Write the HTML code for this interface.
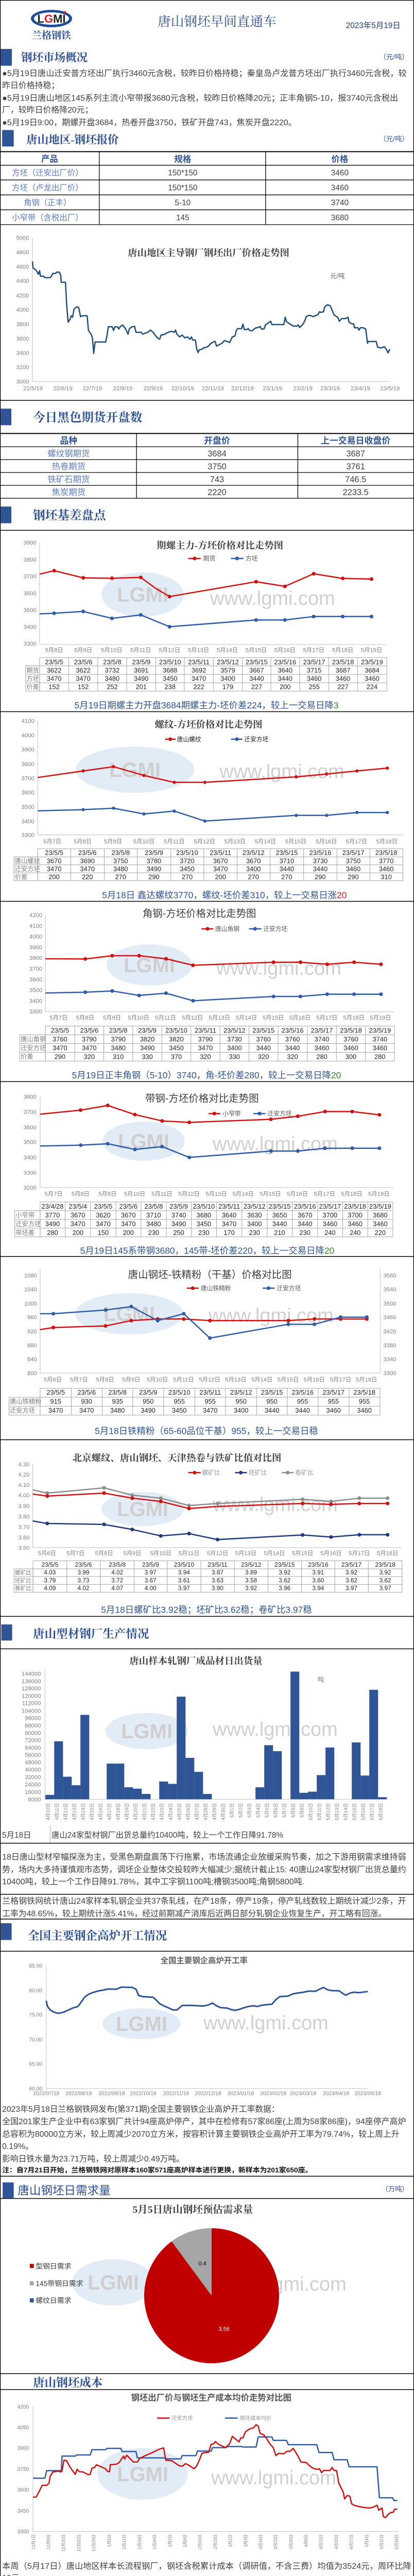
<!DOCTYPE html>
<html><head><meta charset="utf-8">
<style>
body{margin:0;background:#fff}
svg{display:block}
text{font-family:"Liberation Sans","Noto Sans CJK SC",sans-serif}
.sr{font-family:"Liberation Serif","Noto Serif CJK SC",serif}
.z text{transform-box:fill-box;transform-origin:50% 50%}
.z1 text{transform:scaleY(1.538)}
.z2 text{transform:scaleY(1.436)}
.z3 text,.z4 text{transform:scaleY(1.297)}
.z5 text,.z6 text,.z7 text{transform:scaleY(1.149)}
.z8 text{transform:scaleY(1.160)}
.z line,.z path,.z polyline,.z rect,.z ellipse{vector-effect:non-scaling-stroke}
.ax{stroke:#bfbfbf;stroke-width:1}
.tb{stroke:#a6a6a6;stroke-width:1;fill:none}
.hl{stroke:#000;stroke-width:1.5}
.yl{font-size:22px;fill:#7f7f7f;text-anchor:end}
.xl{font-size:22px;fill:#7f7f7f;text-anchor:middle}
.tt{font-size:36px;fill:#404040;font-weight:bold;text-anchor:middle}
.td{font-size:25px;fill:#262626;text-anchor:middle}
.tl{font-size:24px;fill:#7f7f7f}
.cap{font-size:34px;fill:#2f5597;text-anchor:middle}
.lg{font-size:23px;fill:#595959}
.rl{stroke:#d40f0f;stroke-width:2.5;fill:none;stroke-linejoin:round}
.bl{stroke:#2e5ca8;stroke-width:2.5;fill:none;stroke-linejoin:round}
.dr{fill:#d40f0f}.db{fill:#2e5ca8}
.sh{font-size:44px;fill:#2b4f96;font-weight:bold}
.bt{font-size:31px;fill:#404040}
</style></head><body>
<svg width="804" height="5013" viewBox="0 0 804 5013" xmlns="http://www.w3.org/2000/svg">
<rect x="0.5" y="0.5" width="803" height="5012" fill="#fff" stroke="#000" stroke-width="1.5"/>

<!-- watermarks (orig coords) -->
<g fill="#dbe7f4" opacity="0.8">
<ellipse cx="277" cy="1154" rx="80" ry="43"/>
<ellipse cx="262" cy="1494" rx="115" ry="45"/>
<ellipse cx="290" cy="1873" rx="83" ry="40"/>
<ellipse cx="279" cy="2215" rx="80" ry="38"/>
<ellipse cx="251" cy="2550" rx="105" ry="40"/>
<ellipse cx="277" cy="2929" rx="80" ry="33"/>
<ellipse cx="285" cy="3360" rx="80" ry="35"/>
<ellipse cx="275" cy="3928" rx="76" ry="30"/>
<ellipse cx="220" cy="4430" rx="80" ry="45"/>
<ellipse cx="277" cy="4802" rx="88" ry="50"/>
</g>
<g fill="#cfcfcf" font-weight="bold" font-size="40" text-anchor="middle" font-family="Liberation Sans, sans-serif">
<text x="277" y="1168">LGMI</text><text x="262" y="1508">LGMI</text><text x="290" y="1887">LGMI</text>
<text x="279" y="2229">LGMI</text><text x="251" y="2564">LGMI</text><text x="277" y="2943">LGMI</text>
<text x="285" y="3374">LGMI</text><text x="275" y="3942">LGMI</text><text x="220" y="4444">LGMI</text><text x="277" y="4816">LGMI</text>
</g>
<g fill="#d0d0d0" font-size="38" class="sr">
<text x="408" y="1174">www.lgmi.com</text><text x="426" y="1510">www.lgmi.com</text><text x="420" y="1892">www.lgmi.com</text>
<text x="413" y="2233">www.lgmi.com</text><text x="405" y="2566">www.lgmi.com</text><text x="413" y="2933">www.lgmi.com</text>
<text x="413" y="3369">www.lgmi.com</text><text x="395" y="3939">www.lgmi.com</text><text x="430" y="4446">www.lgmi.com</text><text x="410" y="4822">www.lgmi.com</text>
</g>

<!-- logo -->
<ellipse cx="100" cy="36" rx="40" ry="17" fill="#1f4e9c"/>
<ellipse cx="100" cy="36" rx="34" ry="12" fill="#fff"/>
<text x="100" y="44" text-anchor="middle" font-size="22" font-weight="bold" fill="#222">L<tspan fill="#e02020">G</tspan>MI</text>
<circle cx="126" cy="24" r="2.5" fill="#e02020"/>
<text x="100" y="75" text-anchor="middle" font-size="19" font-weight="bold" fill="#2b4f96" class="sr">兰格钢铁</text>

<!-- ZOOM1 -->
<g class="z z1" transform="translate(0,0) scale(0.51276,0.33333)">
<text x="822" y="143" class="sr" style="font-size:50px;fill:#2b4f96;text-anchor:middle">唐山钢坯早间直通车</text>
<text x="1310" y="158" style="font-size:30px;fill:#1f3d7a">2023年5月19日</text>
<rect x="2" y="285" width="43" height="98" fill="#2f5597"/>
<text x="80" y="350" class="sr sh" style="font-size:42px">钢坯市场概况</text>
<text x="1548" y="340" style="font-size:26px;fill:#2f5597;text-anchor:end">（元/吨）</text>
<text x="8" y="438" class="bt" textLength="1532" lengthAdjust="spacingAndGlyphs">●5月19日唐山迁安普方坯出厂执行3460元含税，较昨日价格持稳；秦皇岛卢龙普方坯出厂执行3460元含税，较</text>
<text x="8" y="508" class="bt">昨日价格持稳；</text>
<text x="8" y="581" class="bt" textLength="1500" lengthAdjust="spacingAndGlyphs">●5月19日唐山地区145系列主流小窄带报3680元含税，较昨日价格降20元；正丰角钢5-10，报3740元含税出</text>
<text x="8" y="651" class="bt">厂，较昨日价格降20元；</text>
<text x="8" y="723" class="bt" textLength="1115" lengthAdjust="spacingAndGlyphs">●5月19日9:00，期螺开盘3684，热卷开盘3750，铁矿开盘743，焦炭开盘2220。</text>
<rect x="8" y="757" width="44" height="96" fill="#2f5597"/>
<text x="100" y="828" class="sr sh" style="font-size:42px">唐山地区-钢坯报价</text>
<text x="1548" y="817" style="font-size:26px;fill:#2f5597;text-anchor:end">（元/吨）</text>
<line x1="0" y1="883" x2="1568" y2="883" stroke="#000" stroke-width="2"/>
<g stroke="#000" stroke-width="1.3">
<line x1="0" y1="962" x2="1568" y2="962"/><line x1="0" y1="1048" x2="1568" y2="1048"/>
<line x1="0" y1="1135" x2="1568" y2="1135"/><line x1="0" y1="1222" x2="1568" y2="1222"/>
<line x1="0" y1="1308" x2="1568" y2="1308"/>
<line x1="376" y1="883" x2="376" y2="1308"/><line x1="1006" y1="883" x2="1006" y2="1308"/>
</g>
<g style="font-size:32px;fill:#2f5597;font-weight:bold;text-anchor:middle">
<text x="188" y="937">产品</text><text x="692" y="937">规格</text><text x="1287" y="937">价格</text></g>
<g style="font-size:30px;fill:#404040;text-anchor:middle">
<text x="180" y="1017" style="fill:#5b7dc8">方坯（迁安出厂价）</text><text x="692" y="1017">150*150</text><text x="1287" y="1017">3460</text>
<text x="180" y="1104" style="fill:#5b7dc8">方坯（卢龙出厂价）</text><text x="692" y="1104">150*150</text><text x="1287" y="1104">3460</text>
<text x="180" y="1191" style="fill:#5b7dc8">角钢（正丰）</text><text x="692" y="1191">5-10</text><text x="1287" y="1191">3740</text>
<text x="180" y="1278" style="fill:#5b7dc8">小窄带（含税出厂）</text><text x="692" y="1278">145</text><text x="1287" y="1278">3680</text>
</g>
</g>

<!-- ZOOM2 -->
<g class="z z2" transform="translate(0,420) scale(0.51276,0.35714)">
<line class="ax" x1="123" y1="117" x2="123" y2="898"/><line class="ax" x1="123" y1="898" x2="1478" y2="898"/>
<g class="yl"><text x="110" y="125">5000</text><text x="110" y="203">4800</text><text x="110" y="281">4600</text><text x="110" y="359">4400</text><text x="110" y="438">4200</text><text x="110" y="516">4000</text><text x="110" y="594">3800</text><text x="110" y="672">3600</text><text x="110" y="750">3400</text><text x="110" y="828">3200</text><text x="110" y="906">3000</text></g>
<g class="xl"><text x="125" y="942">22/5/19</text><text x="238" y="942">22/6/19</text><text x="350" y="942">22/7/19</text><text x="465" y="942">22/8/19</text><text x="580" y="942">22/9/19</text><text x="692" y="942">22/10/19</text><text x="806" y="942">22/11/19</text><text x="918" y="942">22/12/19</text><text x="1032" y="942">23/1/19</text><text x="1147" y="942">23/2/19</text><text x="1250" y="942">23/3/19</text><text x="1365" y="942">23/4/19</text><text x="1477" y="942">23/5/19</text></g>
<text x="790" y="210" class="tt sr">唐山地区主导钢厂钢坯出厂价格走势图</text>
<text x="1278" y="332" style="font-size:24px;fill:#666;text-anchor:middle">元/吨</text>
<polyline stroke="#1f4e79" stroke-width="2.5" fill="none" stroke-linejoin="round" points="123,245 125,280 135,290 140,300 145,315 150,295 153,325 165,325 170,333 190,333 195,325 200,310 210,310 215,303 225,303 230,320 232,358 248,358 252,470 258,575 265,560 270,540 275,548 280,505 290,492 298,495 305,545 312,540 330,540 335,620 345,640 350,660 355,745 360,683 400,683 405,650 410,600 425,600 430,620 435,600 445,600 450,612 455,600 465,590 475,610 485,640 490,610 500,600 510,598 515,630 535,630 540,640 560,630 570,618 580,630 590,650 600,665 605,667 610,645 620,643 630,635 640,628 650,625 660,630 665,618 670,640 680,655 690,645 700,660 710,655 720,668 725,655 730,672 740,672 745,720 750,740 755,725 765,722 770,715 780,712 790,705 795,695 800,690 810,680 815,680 820,705 840,690 850,675 860,680 870,685 880,655 890,650 895,620 900,610 915,610 920,585 925,615 935,615 940,610 945,620 955,622 960,615 970,605 975,605 985,598 990,612 1000,612 1005,590 1010,585 1020,575 1025,570 1030,588 1075,588 1080,548 1085,572 1095,582 1110,596 1125,596 1130,590 1135,604 1145,590 1150,580 1155,565 1160,545 1165,540 1175,538 1185,545 1195,540 1205,532 1210,518 1215,522 1225,518 1230,492 1240,480 1250,485 1255,500 1265,535 1275,545 1280,550 1285,570 1295,555 1310,555 1318,548 1322,575 1330,582 1340,585 1342,605 1355,605 1360,618 1365,605 1375,605 1385,612 1392,690 1395,680 1425,680 1430,710 1440,715 1450,712 1455,708 1462,720 1470,742 1475,725 1478,725"/>
<line class="hl" x1="0" y1="1000" x2="1568" y2="1000"/>
<rect x="2" y="1045" width="41" height="90" fill="#2f5597"/>
<text x="125" y="1108" class="sr sh" style="font-size:46px">今日黑色期货开盘数</text>
<line x1="0" y1="1180" x2="1568" y2="1180" stroke="#000" stroke-width="2"/>
<g stroke="#000" stroke-width="1.3">
<line x1="0" y1="1252" x2="1568" y2="1252"/><line x1="0" y1="1322" x2="1568" y2="1322"/><line x1="0" y1="1392" x2="1568" y2="1392"/><line x1="0" y1="1462" x2="1568" y2="1462"/><line x1="0" y1="1532" x2="1568" y2="1532"/>
<line x1="517" y1="1180" x2="517" y2="1532"/><line x1="1128" y1="1180" x2="1128" y2="1532"/></g>
<g style="font-size:33px;fill:#2f5597;font-weight:bold;text-anchor:middle"><text x="260" y="1230">品种</text><text x="822" y="1230">开盘价</text><text x="1347" y="1230">上一交易日收盘价</text></g>
<g style="font-size:32px;fill:#404040;text-anchor:middle">
<text x="260" y="1300" style="fill:#5b7dc8">螺纹钢期货</text><text x="822" y="1300">3684</text><text x="1347" y="1300">3687</text>
<text x="260" y="1370" style="fill:#5b7dc8">热卷期货</text><text x="822" y="1370">3750</text><text x="1347" y="1370">3761</text>
<text x="260" y="1440" style="fill:#5b7dc8">铁矿石期货</text><text x="822" y="1440">743</text><text x="1347" y="1440">746.5</text>
<text x="260" y="1510" style="fill:#5b7dc8">焦炭期货</text><text x="822" y="1510">2220</text><text x="1347" y="1510">2233.5</text></g>
</g>

<!-- ZOOM3 -->
<g class="z z3" transform="translate(0,980) scale(0.51276,0.39541)">
<rect x="2" y="8" width="41" height="82" fill="#2f5597"/>
<text x="125" y="66" class="sr sh" style="font-size:46px">钢坯基差盘点</text>
<line class="hl" x1="0" y1="125" x2="1568" y2="125"/>
<line class="ax" x1="150" y1="185" x2="150" y2="685"/><line class="ax" x1="150" y1="685" x2="1465" y2="685"/>
<g class="yl"><text x="138" y="193">3900</text><text x="138" y="276">3800</text><text x="138" y="359">3700</text><text x="138" y="442">3600</text><text x="138" y="524">3500</text><text x="138" y="607">3400</text><text x="138" y="689">3300</text></g>
<g class="xl"><text x="205" y="720">5月8日</text><text x="315" y="720">5月9日</text><text x="423" y="720">5月10日</text><text x="533" y="720">5月11日</text><text x="642" y="720">5月12日</text><text x="752" y="720">5月13日</text><text x="861" y="720">5月14日</text><text x="970" y="720">5月15日</text><text x="1079" y="720">5月16日</text><text x="1188" y="720">5月17日</text><text x="1298" y="720">5月18日</text><text x="1407" y="720">5月19日</text></g>
<text x="833" y="212" class="tt sr">期螺主力-方坯价格对比走势图</text>
<line x1="713" y1="263" x2="760" y2="263" class="rl"/><ellipse cx="737" cy="263" rx="7" ry="9" class="dr"/><text x="770" y="271" class="lg">期货</text>
<line x1="875" y1="263" x2="922" y2="263" class="bl"/><ellipse cx="898" cy="263" rx="7" ry="9" class="db"/><text x="930" y="271" class="lg">方坯</text>
<polyline class="rl" points="150,340 205,323 315,358 424,360 533,356 590,410 642,450 970,377 1079,400 1188,338 1298,361 1407,364"/>
<polyline class="bl" points="150,535 205,532 315,523 424,557 533,540 642,598 970,565 1079,565 1188,548 1298,548 1407,548"/>
<g class="dr"><ellipse cx="205" cy="323" rx="7" ry="9"/><ellipse cx="315" cy="358" rx="7" ry="9"/><ellipse cx="424" cy="360" rx="7" ry="9"/><ellipse cx="533" cy="356" rx="7" ry="9"/><ellipse cx="642" cy="450" rx="7" ry="9"/><ellipse cx="970" cy="377" rx="7" ry="9"/><ellipse cx="1079" cy="400" rx="7" ry="9"/><ellipse cx="1188" cy="338" rx="7" ry="9"/><ellipse cx="1298" cy="361" rx="7" ry="9"/><ellipse cx="1407" cy="364" rx="7" ry="9"/></g>
<g class="db"><ellipse cx="205" cy="532" rx="7" ry="9"/><ellipse cx="315" cy="523" rx="7" ry="9"/><ellipse cx="424" cy="557" rx="7" ry="9"/><ellipse cx="533" cy="540" rx="7" ry="9"/><ellipse cx="642" cy="598" rx="7" ry="9"/><ellipse cx="970" cy="565" rx="7" ry="9"/><ellipse cx="1079" cy="565" rx="7" ry="9"/><ellipse cx="1188" cy="548" rx="7" ry="9"/><ellipse cx="1298" cy="548" rx="7" ry="9"/><ellipse cx="1407" cy="548" rx="7" ry="9"/></g>
<g class="tb"><rect x="150" y="750" width="1315" height="164"/><rect x="97" y="790" width="53" height="124"/>
<line x1="97" y1="790" x2="1465" y2="790"/><line x1="97" y1="832" x2="1465" y2="832"/><line x1="97" y1="873" x2="1465" y2="873"/>
<path d="M260,750V914M370,750V914M480,750V914M590,750V914M698,750V914M808,750V914M918,750V914M1026,750V914M1135,750V914M1245,750V914M1354,750V914"/></g>
<g class="td"><text y="780"><tspan x="205">23/5/5</tspan><tspan x="315">23/5/6</tspan><tspan x="425">23/5/8</tspan><tspan x="535">23/5/9</tspan><tspan x="644">23/5/10</tspan><tspan x="753">23/5/11</tspan><tspan x="863">23/5/12</tspan><tspan x="972">23/5/15</tspan><tspan x="1080">23/5/16</tspan><tspan x="1190">23/5/17</tspan><tspan x="1299">23/5/18</tspan><tspan x="1409">23/5/19</tspan></text>
<text y="820"><tspan x="205">3622</tspan><tspan x="315">3622</tspan><tspan x="425">3732</tspan><tspan x="535">3691</tspan><tspan x="644">3688</tspan><tspan x="753">3692</tspan><tspan x="863">3579</tspan><tspan x="972">3667</tspan><tspan x="1080">3640</tspan><tspan x="1190">3715</tspan><tspan x="1299">3687</tspan><tspan x="1409">3684</tspan></text>
<text y="861"><tspan x="205">3470</tspan><tspan x="315">3470</tspan><tspan x="425">3480</tspan><tspan x="535">3490</tspan><tspan x="644">3450</tspan><tspan x="753">3470</tspan><tspan x="863">3400</tspan><tspan x="972">3440</tspan><tspan x="1080">3440</tspan><tspan x="1190">3460</tspan><tspan x="1299">3460</tspan><tspan x="1409">3460</tspan></text>
<text y="902"><tspan x="205">152</tspan><tspan x="315">152</tspan><tspan x="425">252</tspan><tspan x="535">201</tspan><tspan x="644">238</tspan><tspan x="753">222</tspan><tspan x="863">179</tspan><tspan x="972">227</tspan><tspan x="1080">200</tspan><tspan x="1190">255</tspan><tspan x="1299">227</tspan><tspan x="1409">224</tspan></text></g>
<g class="tl"><text x="100" y="820">期货</text><text x="100" y="861">方坯</text><text x="100" y="902">价差</text></g>
<text x="782" y="995" class="cap">5月19日期螺主力开盘3684期螺主力-坯价差224，较上一交易日降<tspan fill="#3a8a2a">3</tspan></text>
<line class="hl" x1="0" y1="1015" x2="1568" y2="1015"/>
<line class="ax" x1="143" y1="1060" x2="143" y2="1624"/>
<g class="yl"><text x="130" y="1068">4100</text><text x="130" y="1139">4000</text><text x="130" y="1209">3900</text><text x="130" y="1280">3800</text><text x="130" y="1350">3700</text><text x="130" y="1420">3600</text><text x="130" y="1491">3500</text><text x="130" y="1561">3400</text></g>
<text x="790" y="1090" class="tt sr">螺纹-方坯价格对比走势图</text>
<line x1="625" y1="1150" x2="665" y2="1150" class="rl"/><ellipse cx="645" cy="1150" rx="7" ry="9" class="dr"/><text x="670" y="1158" class="lg" style="fill:#222">唐山螺纹</text>
<line x1="875" y1="1150" x2="918" y2="1150" class="bl"/><ellipse cx="897" cy="1150" rx="7" ry="9" class="db"/><text x="925" y="1158" class="lg" style="fill:#222">迁安方坯</text>
<polyline class="rl" points="143,1338 315,1306 430,1285 545,1328 660,1362 776,1362 1122,1335 1237,1321 1352,1306 1467,1292"/>
<polyline class="bl" points="143,1502 315,1496 430,1489 545,1517 660,1503 776,1552 1122,1524 1237,1524 1352,1510 1467,1510"/>
<g class="dr"><ellipse cx="315" cy="1306" rx="6" ry="8"/><ellipse cx="430" cy="1285" rx="6" ry="8"/><ellipse cx="545" cy="1328" rx="6" ry="8"/><ellipse cx="660" cy="1362" rx="6" ry="8"/><ellipse cx="776" cy="1362" rx="6" ry="8"/><ellipse cx="1122" cy="1335" rx="6" ry="8"/><ellipse cx="1237" cy="1321" rx="6" ry="8"/><ellipse cx="1352" cy="1306" rx="6" ry="8"/><ellipse cx="1467" cy="1292" rx="6" ry="8"/></g>
<g class="db"><ellipse cx="315" cy="1496" rx="6" ry="8"/><ellipse cx="430" cy="1489" rx="6" ry="8"/><ellipse cx="545" cy="1517" rx="6" ry="8"/><ellipse cx="660" cy="1503" rx="6" ry="8"/><ellipse cx="776" cy="1552" rx="6" ry="8"/><ellipse cx="1122" cy="1524" rx="6" ry="8"/><ellipse cx="1237" cy="1524" rx="6" ry="8"/><ellipse cx="1352" cy="1510" rx="6" ry="8"/><ellipse cx="1467" cy="1510" rx="6" ry="8"/></g>
</g>

<!-- ZOOM4 -->
<g class="z z4" transform="translate(0,1600) scale(0.51276,0.39541)">
<line class="ax" x1="145" y1="52" x2="1527" y2="52"/>
<text x="130" y="60" class="yl">3300</text>
<g class="xl"><text x="198" y="92">5月7日</text><text x="313" y="92">5月8日</text><text x="428" y="92">5月9日</text><text x="545" y="92">5月10日</text><text x="660" y="92">5月11日</text><text x="775" y="92">5月12日</text><text x="890" y="92">5月13日</text><text x="1005" y="92">5月14日</text><text x="1120" y="92">5月15日</text><text x="1236" y="92">5月16日</text><text x="1350" y="92">5月17日</text><text x="1465" y="92">5月18日</text></g>
<g class="tb"><rect x="143" y="120" width="1383" height="157"/><rect x="53" y="160" width="90" height="117"/>
<line x1="53" y1="160" x2="1526" y2="160"/><line x1="53" y1="199" x2="1526" y2="199"/><line x1="53" y1="238" x2="1526" y2="238"/>
<path d="M268,120V277M395,120V277M520,120V277M647,120V277M772,120V277M898,120V277M1023,120V277M1150,120V277M1276,120V277M1401,120V277"/></g>
<g class="td"><text y="148"><tspan x="205">23/5/5</tspan><tspan x="331">23/5/6</tspan><tspan x="457">23/5/8</tspan><tspan x="583">23/5/9</tspan><tspan x="709">23/5/10</tspan><tspan x="835">23/5/11</tspan><tspan x="960">23/5/12</tspan><tspan x="1086">23/5/15</tspan><tspan x="1213">23/5/16</tspan><tspan x="1338">23/5/17</tspan><tspan x="1463">23/5/18</tspan></text>
<text y="189"><tspan x="205">3670</tspan><tspan x="331">3690</tspan><tspan x="457">3750</tspan><tspan x="583">3780</tspan><tspan x="709">3720</tspan><tspan x="835">3670</tspan><tspan x="960">3670</tspan><tspan x="1086">3710</tspan><tspan x="1213">3730</tspan><tspan x="1338">3750</tspan><tspan x="1463">3770</tspan></text>
<text y="228"><tspan x="205">3470</tspan><tspan x="331">3470</tspan><tspan x="457">3480</tspan><tspan x="583">3490</tspan><tspan x="709">3450</tspan><tspan x="835">3470</tspan><tspan x="960">3400</tspan><tspan x="1086">3440</tspan><tspan x="1213">3440</tspan><tspan x="1338">3460</tspan><tspan x="1463">3460</tspan></text>
<text y="267"><tspan x="205">200</tspan><tspan x="331">220</tspan><tspan x="457">270</tspan><tspan x="583">290</tspan><tspan x="709">270</tspan><tspan x="835">200</tspan><tspan x="960">270</tspan><tspan x="1086">270</tspan><tspan x="1213">290</tspan><tspan x="1338">290</tspan><tspan x="1463">310</tspan></text></g>
<g class="tl"><text x="56" y="189">唐山螺纹</text><text x="56" y="228">迁安方坯</text><text x="56" y="267">价差</text></g>
<text x="850" y="360" class="cap">5月18日 鑫达螺纹3770，螺纹-坯价差310，较上一交易日涨<tspan fill="#e02020">20</tspan></text>
<line class="hl" x1="0" y1="378" x2="1568" y2="378"/>
<text x="755" y="450" class="tt" style="font-weight:normal;font-size:38px">角钢-方坯价格对比走势图</text>
<line class="ax" x1="172" y1="445" x2="172" y2="920"/><line class="ax" x1="172" y1="920" x2="1495" y2="920"/>
<g class="yl"><text x="160" y="453">4200</text><text x="160" y="506">4100</text><text x="160" y="558">4000</text><text x="160" y="611">3900</text><text x="160" y="664">3800</text><text x="160" y="716">3700</text><text x="160" y="769">3600</text><text x="160" y="822">3500</text><text x="160" y="874">3400</text><text x="160" y="927">3300</text></g>
<g class="xl"><text x="222" y="957">5月7日</text><text x="322" y="957">5月8日</text><text x="424" y="957">5月9日</text><text x="525" y="957">5月10日</text><text x="627" y="957">5月11日</text><text x="729" y="957">5月12日</text><text x="831" y="957">5月13日</text><text x="933" y="957">5月14日</text><text x="1035" y="957">5月15日</text><text x="1136" y="957">5月16日</text><text x="1238" y="957">5月17日</text><text x="1340" y="957">5月18日</text><text x="1441" y="957">5月19日</text></g>
<line x1="763" y1="513" x2="808" y2="513" class="rl"/><ellipse cx="786" cy="513" rx="7" ry="9" class="dr"/><text x="815" y="521" class="lg">唐山角钢</text>
<line x1="943" y1="513" x2="990" y2="513" class="bl"/><ellipse cx="966" cy="513" rx="7" ry="9" class="db"/><text x="997" y="521" class="lg">迁安方坯</text>
<polyline class="rl" points="172,660 323,661 425,645 527,645 629,660 731,692 1036,677 1138,677 1239,687 1341,677 1443,687"/>
<polyline class="bl" points="172,828 323,824 425,818 527,840 629,829 731,866 1036,845 1138,845 1239,834 1341,834 1443,834"/>
<g class="dr"><ellipse cx="323" cy="661" rx="7" ry="9"/><ellipse cx="425" cy="645" rx="7" ry="9"/><ellipse cx="527" cy="645" rx="7" ry="9"/><ellipse cx="629" cy="660" rx="7" ry="9"/><ellipse cx="731" cy="692" rx="7" ry="9"/><ellipse cx="1036" cy="677" rx="7" ry="9"/><ellipse cx="1138" cy="677" rx="7" ry="9"/><ellipse cx="1239" cy="687" rx="7" ry="9"/><ellipse cx="1341" cy="677" rx="7" ry="9"/><ellipse cx="1443" cy="687" rx="7" ry="9"/></g>
<g class="db"><ellipse cx="323" cy="824" rx="7" ry="9"/><ellipse cx="425" cy="818" rx="7" ry="9"/><ellipse cx="527" cy="840" rx="7" ry="9"/><ellipse cx="629" cy="829" rx="7" ry="9"/><ellipse cx="731" cy="866" rx="7" ry="9"/><ellipse cx="1036" cy="845" rx="7" ry="9"/><ellipse cx="1138" cy="845" rx="7" ry="9"/><ellipse cx="1239" cy="834" rx="7" ry="9"/><ellipse cx="1341" cy="834" rx="7" ry="9"/><ellipse cx="1443" cy="834" rx="7" ry="9"/></g>
<g class="tb"><rect x="172" y="990" width="1322" height="172"/><rect x="75" y="1033" width="97" height="129"/>
<line x1="75" y1="1033" x2="1494" y2="1033"/><line x1="75" y1="1076" x2="1494" y2="1076"/><line x1="75" y1="1119" x2="1494" y2="1119"/>
<path d="M283,990V1162M393,990V1162M503,990V1162M613,990V1162M723,990V1162M833,990V1162M943,990V1162M1053,990V1162M1164,990V1162M1274,990V1162M1384,990V1162"/></g>
<g class="td"><text y="1020"><tspan x="227">23/5/5</tspan><tspan x="338">23/5/6</tspan><tspan x="448">23/5/8</tspan><tspan x="558">23/5/9</tspan><tspan x="668">23/5/10</tspan><tspan x="778">23/5/11</tspan><tspan x="888">23/5/12</tspan><tspan x="998">23/5/15</tspan><tspan x="1108">23/5/16</tspan><tspan x="1219">23/5/17</tspan><tspan x="1329">23/5/18</tspan><tspan x="1439">23/5/19</tspan></text>
<text y="1063"><tspan x="227">3760</tspan><tspan x="338">3790</tspan><tspan x="448">3790</tspan><tspan x="558">3820</tspan><tspan x="668">3820</tspan><tspan x="778">3790</tspan><tspan x="888">3730</tspan><tspan x="998">3760</tspan><tspan x="1108">3760</tspan><tspan x="1219">3740</tspan><tspan x="1329">3760</tspan><tspan x="1439">3740</tspan></text>
<text y="1106"><tspan x="227">3470</tspan><tspan x="338">3470</tspan><tspan x="448">3480</tspan><tspan x="558">3490</tspan><tspan x="668">3450</tspan><tspan x="778">3470</tspan><tspan x="888">3400</tspan><tspan x="998">3440</tspan><tspan x="1108">3440</tspan><tspan x="1219">3460</tspan><tspan x="1329">3460</tspan><tspan x="1439">3460</tspan></text>
<text y="1149"><tspan x="227">290</tspan><tspan x="338">320</tspan><tspan x="448">310</tspan><tspan x="558">330</tspan><tspan x="668">370</tspan><tspan x="778">320</tspan><tspan x="888">330</tspan><tspan x="998">320</tspan><tspan x="1108">320</tspan><tspan x="1219">280</tspan><tspan x="1329">300</tspan><tspan x="1439">280</tspan></text></g>
<g class="tl"><text x="78" y="1063">唐山角钢</text><text x="78" y="1106">迁安方坯</text><text x="78" y="1149">价差</text></g>
<text x="782" y="1243" class="cap">5月19日正丰角钢（5-10）3740，角-坯价差280，较上一交易日降<tspan fill="#3a8a2a">20</tspan></text>
<line class="hl" x1="0" y1="1263" x2="1568" y2="1263"/>
<text x="765" y="1358" class="tt" style="font-weight:normal;font-size:38px">带钢-方坯价格对比走势图</text>
<line class="ax" x1="152" y1="1337" x2="152" y2="1783"/>
<g class="yl"><text x="138" y="1345">3800</text><text x="138" y="1420">3700</text><text x="138" y="1495">3600</text><text x="138" y="1568">3500</text></g>
<line x1="790" y1="1420" x2="835" y2="1420" class="rl"/><ellipse cx="812" cy="1420" rx="7" ry="9" class="dr"/><text x="843" y="1428" class="lg">小窄带</text>
<line x1="960" y1="1420" x2="1005" y2="1420" class="bl"/><ellipse cx="983" cy="1420" rx="7" ry="9" class="db"/><text x="1013" y="1428" class="lg">迁安方坯</text>
<polyline class="rl" points="152,1423 305,1403 408,1380 511,1425 614,1456 717,1463 1026,1448 1128,1433 1231,1410 1334,1410 1437,1426"/>
<polyline class="bl" points="152,1579 306,1575 408,1568 511,1596 614,1582 717,1635 1026,1604 1128,1604 1231,1590 1334,1590 1437,1590"/>
<g class="dr"><ellipse cx="305" cy="1403" rx="7" ry="9"/><ellipse cx="408" cy="1380" rx="7" ry="9"/><ellipse cx="511" cy="1425" rx="7" ry="9"/><ellipse cx="614" cy="1456" rx="7" ry="9"/><ellipse cx="717" cy="1463" rx="7" ry="9"/><ellipse cx="1026" cy="1448" rx="7" ry="9"/><ellipse cx="1128" cy="1433" rx="7" ry="9"/><ellipse cx="1231" cy="1410" rx="7" ry="9"/><ellipse cx="1334" cy="1410" rx="7" ry="9"/><ellipse cx="1437" cy="1426" rx="7" ry="9"/></g>
<g class="db"><ellipse cx="306" cy="1575" rx="7" ry="9"/><ellipse cx="408" cy="1568" rx="7" ry="9"/><ellipse cx="511" cy="1596" rx="7" ry="9"/><ellipse cx="614" cy="1582" rx="7" ry="9"/><ellipse cx="717" cy="1635" rx="7" ry="9"/><ellipse cx="1026" cy="1604" rx="7" ry="9"/><ellipse cx="1128" cy="1604" rx="7" ry="9"/><ellipse cx="1231" cy="1590" rx="7" ry="9"/><ellipse cx="1334" cy="1590" rx="7" ry="9"/><ellipse cx="1437" cy="1590" rx="7" ry="9"/></g>
</g>

<!-- ZOOM5 -->
<g class="z z5" transform="translate(0,2220) scale(0.51276,0.44643)">
<line class="ax" x1="152" y1="190" x2="1490" y2="190"/>
<g class="yl"><text x="138" y="67">3400</text><text x="138" y="133">3300</text><text x="138" y="198">3200</text></g>
<g class="xl"><text x="203" y="225">5月7日</text><text x="305" y="225">5月8日</text><text x="407" y="225">5月9日</text><text x="510" y="225">5月10日</text><text x="613" y="225">5月11日</text><text x="716" y="225">5月12日</text><text x="819" y="225">5月13日</text><text x="921" y="225">5月14日</text><text x="1024" y="225">5月15日</text><text x="1126" y="225">5月16日</text><text x="1229" y="225">5月17日</text><text x="1332" y="225">5月18日</text><text x="1435" y="225">5月19日</text></g>
<g class="tb"><rect x="152" y="253" width="1336" height="152"/><rect x="56" y="291" width="96" height="114"/>
<line x1="56" y1="291" x2="1488" y2="291"/><line x1="56" y1="329" x2="1488" y2="329"/><line x1="56" y1="367" x2="1488" y2="367"/>
<path d="M247,253V405M343,253V405M439,253V405M534,253V405M630,253V405M725,253V405M820,253V405M916,253V405M1012,253V405M1107,253V405M1203,253V405M1298,253V405M1393,253V405"/></g>
<g class="td"><text y="281"><tspan x="199">23/4/28</tspan><tspan x="295">23/5/4</tspan><tspan x="391">23/5/5</tspan><tspan x="486">23/5/6</tspan><tspan x="582">23/5/8</tspan><tspan x="677">23/5/9</tspan><tspan x="772">23/5/10</tspan><tspan x="868">23/5/11</tspan><tspan x="964">23/5/12</tspan><tspan x="1059">23/5/15</tspan><tspan x="1155">23/5/16</tspan><tspan x="1250">23/5/17</tspan><tspan x="1345">23/5/18</tspan><tspan x="1440">23/5/19</tspan></text>
<text y="319"><tspan x="199">3770</tspan><tspan x="295">3670</tspan><tspan x="391">3620</tspan><tspan x="486">3670</tspan><tspan x="582">3710</tspan><tspan x="677">3740</tspan><tspan x="772">3680</tspan><tspan x="868">3640</tspan><tspan x="964">3630</tspan><tspan x="1059">3650</tspan><tspan x="1155">3670</tspan><tspan x="1250">3700</tspan><tspan x="1345">3700</tspan><tspan x="1440">3680</tspan></text>
<text y="357"><tspan x="199">3490</tspan><tspan x="295">3470</tspan><tspan x="391">3470</tspan><tspan x="486">3470</tspan><tspan x="582">3480</tspan><tspan x="677">3490</tspan><tspan x="772">3450</tspan><tspan x="868">3470</tspan><tspan x="964">3400</tspan><tspan x="1059">3440</tspan><tspan x="1155">3440</tspan><tspan x="1250">3460</tspan><tspan x="1345">3460</tspan><tspan x="1440">3460</tspan></text>
<text y="395"><tspan x="199">280</tspan><tspan x="295">200</tspan><tspan x="391">150</tspan><tspan x="486">200</tspan><tspan x="582">230</tspan><tspan x="677">250</tspan><tspan x="772">230</tspan><tspan x="868">170</tspan><tspan x="964">230</tspan><tspan x="1059">210</tspan><tspan x="1155">230</tspan><tspan x="1250">240</tspan><tspan x="1345">240</tspan><tspan x="1440">220</tspan></text></g>
<g class="tl"><text x="59" y="319">小窄带</text><text x="59" y="357">迁安方坯</text><text x="59" y="395">带坯差</text></g>
<text x="785" y="476" class="cap">5月19日145系带钢3680，145带-坯价差220，较上一交易日降<tspan fill="#3a8a2a">20</tspan></text>
<line class="hl" x1="0" y1="490" x2="1568" y2="490"/>
<text x="795" y="582" class="tt" style="font-weight:normal;font-size:38px">唐山钢坯-铁精粉（干基）价格对比图</text>
<line class="ax" x1="152" y1="545" x2="152" y2="997"/><line class="ax" x1="1440" y1="545" x2="1440" y2="997"/><line class="ax" x1="152" y1="997" x2="1440" y2="997"/>
<g class="yl"><text x="140" y="581">1080</text><text x="140" y="641">1040</text><text x="140" y="702">1000</text><text x="140" y="762">960</text><text x="140" y="823">920</text><text x="140" y="884">880</text><text x="140" y="944">840</text><text x="140" y="1005">800</text></g>
<g class="yl" style="text-anchor:start"><text x="1452" y="581">3580</text><text x="1452" y="641">3540</text><text x="1452" y="702">3500</text><text x="1452" y="762">3460</text><text x="1452" y="823">3420</text><text x="1452" y="884">3380</text><text x="1452" y="944">3340</text><text x="1452" y="1005">3300</text></g>
<g class="xl"><text x="200" y="1033">5月6日</text><text x="299" y="1033">5月7日</text><text x="398" y="1033">5月8日</text><text x="497" y="1033">5月9日</text><text x="596" y="1033">5月10日</text><text x="695" y="1033">5月11日</text><text x="794" y="1033">5月12日</text><text x="893" y="1033">5月13日</text><text x="992" y="1033">5月14日</text><text x="1091" y="1033">5月15日</text><text x="1190" y="1033">5月16日</text><text x="1290" y="1033">5月17日</text><text x="1388" y="1033">5月18日</text></g>
<line x1="707" y1="628" x2="752" y2="628" class="rl"/><ellipse cx="730" cy="628" rx="7" ry="8" class="dr"/><text x="760" y="636" class="lg">唐山铁精粉</text>
<line x1="995" y1="628" x2="1040" y2="628" class="bl"/><ellipse cx="1017" cy="628" rx="7" ry="8" class="db"/><text x="1048" y="636" class="lg">迁安方坯</text>
<polyline class="rl" points="152,808 202,799 400,792 497,769 597,762 696,762 795,769 1092,769 1191,762 1290,762 1389,762"/>
<polyline class="bl" points="152,739 202,739 400,723 497,708 597,769 696,739 795,845 1092,785 1191,785 1290,754 1389,754"/>
<g class="dr"><ellipse cx="202" cy="799" rx="7" ry="8"/><ellipse cx="400" cy="792" rx="7" ry="8"/><ellipse cx="497" cy="769" rx="7" ry="8"/><ellipse cx="597" cy="762" rx="7" ry="8"/><ellipse cx="696" cy="762" rx="7" ry="8"/><ellipse cx="795" cy="769" rx="7" ry="8"/><ellipse cx="1092" cy="769" rx="7" ry="8"/><ellipse cx="1191" cy="762" rx="7" ry="8"/><ellipse cx="1290" cy="762" rx="7" ry="8"/><ellipse cx="1389" cy="762" rx="7" ry="8"/></g>
<g class="db"><ellipse cx="202" cy="739" rx="7" ry="8"/><ellipse cx="400" cy="723" rx="7" ry="8"/><ellipse cx="497" cy="708" rx="7" ry="8"/><ellipse cx="597" cy="769" rx="7" ry="8"/><ellipse cx="696" cy="739" rx="7" ry="8"/><ellipse cx="795" cy="845" rx="7" ry="8"/><ellipse cx="1092" cy="785" rx="7" ry="8"/><ellipse cx="1191" cy="785" rx="7" ry="8"/><ellipse cx="1290" cy="754" rx="7" ry="8"/><ellipse cx="1389" cy="754" rx="7" ry="8"/></g>
<g class="tb"><rect x="152" y="1063" width="1287" height="117"/><rect x="34" y="1102" width="118" height="78"/>
<line x1="34" y1="1102" x2="1439" y2="1102"/><line x1="34" y1="1141" x2="1439" y2="1141"/>
<path d="M270,1063V1180M387,1063V1180M503,1063V1180M620,1063V1180M738,1063V1180M854,1063V1180M972,1063V1180M1088,1063V1180M1205,1063V1180M1322,1063V1180"/></g>
<g class="td"><text y="1090"><tspan x="211">23/5/5</tspan><tspan x="328">23/5/6</tspan><tspan x="445">23/5/8</tspan><tspan x="561">23/5/9</tspan><tspan x="679">23/5/10</tspan><tspan x="796">23/5/11</tspan><tspan x="913">23/5/12</tspan><tspan x="1030">23/5/15</tspan><tspan x="1146">23/5/16</tspan><tspan x="1263">23/5/17</tspan><tspan x="1380">23/5/18</tspan></text>
<text y="1129"><tspan x="211">915</tspan><tspan x="328">930</tspan><tspan x="445">935</tspan><tspan x="561">950</tspan><tspan x="679">955</tspan><tspan x="796">955</tspan><tspan x="913">950</tspan><tspan x="1030">950</tspan><tspan x="1146">955</tspan><tspan x="1263">955</tspan><tspan x="1380">955</tspan></text>
<text y="1168"><tspan x="211">3470</tspan><tspan x="328">3470</tspan><tspan x="445">3480</tspan><tspan x="561">3490</tspan><tspan x="679">3450</tspan><tspan x="796">3470</tspan><tspan x="913">3400</tspan><tspan x="1030">3440</tspan><tspan x="1146">3440</tspan><tspan x="1263">3460</tspan><tspan x="1380">3460</tspan></text></g>
<g class="tl"><text x="37" y="1129">唐山铁精粉</text><text x="37" y="1168">迁安方坯</text></g>
<text x="782" y="1260" class="cap">5月18日铁精粉（65-60品位干基）955，较上一交易日稳</text>
<line class="hl" x1="0" y1="1287" x2="1568" y2="1287"/>
<text x="670" y="1378" class="tt sr">北京螺纹、唐山钢坯、天津热卷与铁矿比值对比图</text>
<line class="ax" x1="124" y1="1393" x2="124" y2="1756"/><line class="ax" x1="124" y1="1756" x2="1522" y2="1756"/>
<g class="yl"><text x="112" y="1401">4.30</text><text x="112" y="1446">4.20</text><text x="112" y="1491">4.10</text><text x="112" y="1536">4.00</text><text x="112" y="1583">3.90</text><text x="112" y="1629">3.80</text><text x="112" y="1674">3.70</text><text x="112" y="1719">3.60</text><text x="112" y="1764">3.50</text></g>
<g class="xl"><text x="178" y="1788">5月6日</text><text x="286" y="1788">5月7日</text><text x="394" y="1788">5月8日</text><text x="501" y="1788">5月9日</text><text x="609" y="1788">5月10日</text><text x="716" y="1788">5月11日</text><text x="824" y="1788">5月12日</text><text x="931" y="1788">5月13日</text><text x="1039" y="1788">5月14日</text><text x="1146" y="1788">5月15日</text><text x="1254" y="1788">5月16日</text><text x="1361" y="1788">5月17日</text><text x="1468" y="1788">5月18日</text></g>
<line x1="713" y1="1430" x2="760" y2="1430" class="rl"/><ellipse cx="737" cy="1430" rx="7" ry="8" class="dr"/><text x="765" y="1438" class="lg" style="fill:#999">螺矿比</text>
<line x1="890" y1="1430" x2="935" y2="1430" stroke="#1f3a7a" stroke-width="2.5"/><ellipse cx="912" cy="1430" rx="7" ry="8" fill="#1f3a7a"/><text x="942" y="1438" class="lg" style="fill:#999">坯矿比</text>
<line x1="1068" y1="1430" x2="1112" y2="1430" stroke="#8c8c8c" stroke-width="2.5"/><ellipse cx="1090" cy="1430" rx="7" ry="8" fill="#8c8c8c"/><text x="1118" y="1438" class="lg" style="fill:#999">卷矿比</text>
<polyline stroke="#8c8c8c" stroke-width="2.5" fill="none" points="124,1505 179,1519 394,1496 501,1528 609,1541 716,1573 824,1564 1146,1546 1254,1555 1361,1541 1468,1541"/>
<polyline class="rl" points="124,1523 179,1532 394,1519 501,1541 609,1555 716,1586 824,1577 1146,1564 1254,1568 1361,1564 1468,1564"/>
<polyline stroke="#1f3a7a" stroke-width="2.5" fill="none" points="124,1640 179,1651 394,1655 501,1677 609,1705 716,1695 824,1721 1146,1701 1254,1710 1361,1700 1468,1700"/>
<g fill="#8c8c8c"><ellipse cx="179" cy="1519" rx="7" ry="8"/><ellipse cx="394" cy="1496" rx="7" ry="8"/><ellipse cx="501" cy="1528" rx="7" ry="8"/><ellipse cx="609" cy="1541" rx="7" ry="8"/><ellipse cx="716" cy="1573" rx="7" ry="8"/><ellipse cx="824" cy="1564" rx="7" ry="8"/><ellipse cx="1146" cy="1546" rx="7" ry="8"/><ellipse cx="1254" cy="1555" rx="7" ry="8"/><ellipse cx="1361" cy="1541" rx="7" ry="8"/><ellipse cx="1468" cy="1541" rx="7" ry="8"/></g>
<g class="dr"><ellipse cx="179" cy="1532" rx="7" ry="8"/><ellipse cx="394" cy="1519" rx="7" ry="8"/><ellipse cx="501" cy="1541" rx="7" ry="8"/><ellipse cx="609" cy="1555" rx="7" ry="8"/><ellipse cx="716" cy="1586" rx="7" ry="8"/><ellipse cx="1146" cy="1564" rx="7" ry="8"/><ellipse cx="1254" cy="1568" rx="7" ry="8"/><ellipse cx="1361" cy="1564" rx="7" ry="8"/><ellipse cx="1468" cy="1564" rx="7" ry="8"/></g>
<g fill="#1f3a7a"><ellipse cx="179" cy="1651" rx="7" ry="8"/><ellipse cx="394" cy="1655" rx="7" ry="8"/><ellipse cx="501" cy="1677" rx="7" ry="8"/><ellipse cx="609" cy="1705" rx="7" ry="8"/><ellipse cx="716" cy="1695" rx="7" ry="8"/><ellipse cx="824" cy="1721" rx="7" ry="8"/><ellipse cx="1146" cy="1701" rx="7" ry="8"/><ellipse cx="1254" cy="1710" rx="7" ry="8"/><ellipse cx="1361" cy="1700" rx="7" ry="8"/><ellipse cx="1468" cy="1700" rx="7" ry="8"/></g>
<g class="tb"><rect x="125" y="1813" width="1398" height="137"/><rect x="53" y="1848" width="72" height="102"/>
<line x1="53" y1="1848" x2="1523" y2="1848"/><line x1="53" y1="1882" x2="1523" y2="1882"/><line x1="53" y1="1916" x2="1523" y2="1916"/>
<path d="M253,1813V1950M380,1813V1950M508,1813V1950M633,1813V1950M761,1813V1950M888,1813V1950M1015,1813V1950M1142,1813V1950M1268,1813V1950M1395,1813V1950"/></g>
<g class="td" style="font-size:23px"><text y="1838"><tspan x="189">23/5/5</tspan><tspan x="316">23/5/6</tspan><tspan x="444">23/5/8</tspan><tspan x="570">23/5/9</tspan><tspan x="697">23/5/10</tspan><tspan x="824">23/5/11</tspan><tspan x="951">23/5/12</tspan><tspan x="1078">23/5/15</tspan><tspan x="1205">23/5/16</tspan><tspan x="1331">23/5/17</tspan><tspan x="1459">23/5/18</tspan></text>
<text y="1872"><tspan x="189">4.03</tspan><tspan x="316">3.99</tspan><tspan x="444">4.02</tspan><tspan x="570">3.97</tspan><tspan x="697">3.94</tspan><tspan x="824">3.87</tspan><tspan x="951">3.89</tspan><tspan x="1078">3.92</tspan><tspan x="1205">3.91</tspan><tspan x="1331">3.92</tspan><tspan x="1459">3.92</tspan></text>
<text y="1906"><tspan x="189">3.79</tspan><tspan x="316">3.73</tspan><tspan x="444">3.72</tspan><tspan x="570">3.67</tspan><tspan x="697">3.61</tspan><tspan x="824">3.63</tspan><tspan x="951">3.58</tspan><tspan x="1078">3.62</tspan><tspan x="1205">3.60</tspan><tspan x="1331">3.62</tspan><tspan x="1459">3.62</tspan></text>
<text y="1940"><tspan x="189">4.09</tspan><tspan x="316">4.02</tspan><tspan x="444">4.07</tspan><tspan x="570">4.00</tspan><tspan x="697">3.97</tspan><tspan x="824">3.90</tspan><tspan x="951">3.92</tspan><tspan x="1078">3.96</tspan><tspan x="1205">3.94</tspan><tspan x="1331">3.97</tspan><tspan x="1459">3.97</tspan></text></g>
<g class="tl" style="font-size:21px"><text x="56" y="1872">螺矿比</text><text x="56" y="1906">坯矿比</text><text x="56" y="1940">卷矿比</text></g>
<text x="782" y="2038" class="cap">5月18日螺矿比3.92稳；坯矿比3.62稳；卷矿比3.97稳</text>
<line class="hl" x1="0" y1="2055" x2="1568" y2="2055"/>
</g>

<!-- ZOOM6 -->
<g class="z z6" transform="translate(0,2920) scale(0.51276,0.44643)">
<rect x="5" y="522" width="41" height="70" fill="#2f5597"/>
<text x="125" y="578" class="sr sh">唐山型材钢厂生产情况</text>
<line class="hl" x1="0" y1="628" x2="1568" y2="628"/>
<text x="742" y="693" class="tt sr">唐山样本轧钢厂成品材日出货量</text>
<line class="ax" x1="170" y1="715" x2="170" y2="1282"/><line class="ax" x1="170" y1="1282" x2="1468" y2="1282"/>
<g class="yl"><text x="155" y="744">144000</text><text x="155" y="776">136000</text><text x="155" y="808">128000</text><text x="155" y="840">120000</text><text x="155" y="872">112000</text><text x="155" y="905">104000</text><text x="155" y="937">96000</text><text x="155" y="969">88000</text><text x="155" y="1001">80000</text><text x="155" y="1033">72000</text><text x="155" y="1065">64000</text><text x="155" y="1097">56000</text><text x="155" y="1129">48000</text><text x="155" y="1161">40000</text><text x="155" y="1193">32000</text><text x="155" y="1226">24000</text><text x="155" y="1258">16000</text><text x="155" y="1290">8000</text></g>
<text x="1215" y="770" style="font-size:24px;fill:#7f7f7f;text-anchor:middle">吨</text>
<g fill="#2f5597">
<rect x="172" y="1263" width="33.4" height="19"/><rect x="205.2" y="1030" width="33.4" height="252"/><rect x="238.3" y="1184" width="33.4" height="98"/><rect x="271.5" y="1221" width="33.4" height="61"/><rect x="304.6" y="915" width="33.4" height="367"/>
<rect x="404.1" y="1127" width="33.4" height="155"/><rect x="437.2" y="1127" width="33.4" height="155"/><rect x="470.4" y="1230" width="33.4" height="52"/><rect x="503.5" y="1236" width="33.4" height="46"/><rect x="536.7" y="1259" width="33.4" height="23"/>
<rect x="603" y="1205" width="33.4" height="77"/><rect x="636.1" y="1215" width="33.4" height="67"/><rect x="669.3" y="836" width="33.4" height="446"/><rect x="702.4" y="1102" width="33.4" height="180"/><rect x="735.6" y="1163" width="33.4" height="119"/><rect x="768.7" y="1259" width="33.4" height="23"/>
<rect x="967.6" y="1230" width="33.4" height="52"/><rect x="1000.8" y="1047" width="33.4" height="235"/><rect x="1033.9" y="1073" width="33.4" height="209"/>
<rect x="1100.2" y="727" width="33.4" height="555"/><rect x="1133.4" y="1254" width="33.4" height="28"/><rect x="1166.5" y="1249" width="33.4" height="33"/><rect x="1199.7" y="1177" width="33.4" height="105"/><rect x="1232.8" y="1057" width="33.4" height="225"/>
<rect x="1332.3" y="1035" width="33.4" height="247"/><rect x="1365.4" y="1179" width="33.4" height="103"/><rect x="1398.6" y="806" width="33.4" height="476"/><rect x="1431.7" y="1273" width="33.4" height="9"/>
</g>
<text x="8" y="1448" style="font-size:30px;fill:#404040">5月18日</text>
<line x1="190" y1="1395" x2="190" y2="1472" stroke="#9db3d9" stroke-width="1"/>
<text x="195" y="1448" style="font-size:30px;fill:#404040">唐山24家型材钢厂出货总量约10400吨，较上一个工作日降91.78%</text>
<line class="hl" x1="0" y1="1473" x2="1568" y2="1473"/>
<text x="8" y="1543" class="bt" textLength="1530" lengthAdjust="spacingAndGlyphs">18日唐山型材窄幅探涨为主，受黑色期盘震荡下行拖累，市场流通企业放缓采购节奏，加之下游用钢需求维持弱</text>
</g>

<!-- bar chart x labels (orig coords) -->
<g font-size="9" fill="#7f7f7f" text-anchor="end">
<text transform="translate(96.7,3500) rotate(-90)">4月10日</text><text transform="translate(113.7,3500) rotate(-90)">4月11日</text><text transform="translate(130.7,3500) rotate(-90)">4月12日</text><text transform="translate(147.7,3500) rotate(-90)">4月13日</text><text transform="translate(164.7,3500) rotate(-90)">4月14日</text><text transform="translate(181.7,3500) rotate(-90)">4月15日</text><text transform="translate(198.7,3500) rotate(-90)">4月16日</text><text transform="translate(215.7,3500) rotate(-90)">4月17日</text><text transform="translate(232.7,3500) rotate(-90)">4月18日</text><text transform="translate(249.7,3500) rotate(-90)">4月19日</text><text transform="translate(266.7,3500) rotate(-90)">4月20日</text><text transform="translate(283.7,3500) rotate(-90)">4月21日</text><text transform="translate(300.7,3500) rotate(-90)">4月22日</text><text transform="translate(317.7,3500) rotate(-90)">4月23日</text><text transform="translate(334.7,3500) rotate(-90)">4月24日</text><text transform="translate(351.7,3500) rotate(-90)">4月25日</text><text transform="translate(368.7,3500) rotate(-90)">4月26日</text><text transform="translate(385.7,3500) rotate(-90)">4月27日</text><text transform="translate(402.7,3500) rotate(-90)">4月28日</text><text transform="translate(419.7,3500) rotate(-90)">4月29日</text><text transform="translate(436.7,3500) rotate(-90)">4月30日</text><text transform="translate(453.7,3500) rotate(-90)">5月1日</text><text transform="translate(470.7,3500) rotate(-90)">5月2日</text><text transform="translate(487.7,3500) rotate(-90)">5月3日</text><text transform="translate(504.7,3500) rotate(-90)">5月4日</text><text transform="translate(521.7,3500) rotate(-90)">5月5日</text><text transform="translate(538.7,3500) rotate(-90)">5月6日</text><text transform="translate(555.7,3500) rotate(-90)">5月7日</text><text transform="translate(572.7,3500) rotate(-90)">5月8日</text><text transform="translate(589.7,3500) rotate(-90)">5月9日</text><text transform="translate(606.7,3500) rotate(-90)">5月10日</text><text transform="translate(623.7,3500) rotate(-90)">5月11日</text><text transform="translate(640.7,3500) rotate(-90)">5月12日</text><text transform="translate(657.7,3500) rotate(-90)">5月13日</text><text transform="translate(674.7,3500) rotate(-90)">5月14日</text><text transform="translate(691.7,3500) rotate(-90)">5月15日</text><text transform="translate(708.7,3500) rotate(-90)">5月16日</text><text transform="translate(725.7,3500) rotate(-90)">5月17日</text><text transform="translate(742.7,3500) rotate(-90)">5月18日</text>
</g>

<!-- ZOOM7 -->
<g class="z z7" transform="translate(0,3620) scale(0.51276,0.44643)">
<text x="8" y="30" class="bt" textLength="1530" lengthAdjust="spacingAndGlyphs">势，场内大多持谨慎观市态势，调坯企业整体交投较昨大幅减少;据统计截止15: 40唐山24家型材钢厂出货总量约</text>
<text x="8" y="83" class="bt" textLength="1145" lengthAdjust="spacingAndGlyphs">10400吨，较上一个工作日降91.78%，其中工字钢1100吨;槽钢3500吨;角钢5800吨.</text>
<line class="hl" x1="0" y1="127" x2="1568" y2="127"/>
<text x="8" y="167" class="bt" textLength="1530" lengthAdjust="spacingAndGlyphs">兰格钢铁网统计唐山24家样本轧钢企业共37条轧线，在产18条，停产19条，停产轧线数较上期统计减少2条，开</text>
<text x="8" y="221" class="bt" textLength="1455" lengthAdjust="spacingAndGlyphs">工率为48.65%，较上期统计涨5.41%，经过前期减产消库后近两日部分轧钢企业恢复生产，开工略有回涨。</text>
<line class="hl" x1="0" y1="235" x2="1568" y2="235"/>
<rect x="3" y="253" width="41" height="73" fill="#2f5597"/>
<text x="105" y="323" class="sr sh">全国主要钢企高炉开工情况</text>
<line class="hl" x1="0" y1="375" x2="1568" y2="375"/>
<text x="773" y="425" style="font-size:30px;fill:#666;text-anchor:middle;font-weight:bold">全国主要钢企高炉开工率</text>
<line class="ax" x1="175" y1="438" x2="175" y2="972"/><line class="ax" x1="175" y1="972" x2="1393" y2="972"/>
<g class="yl" style="font-size:20px"><text x="160" y="445">85.00</text><text x="160" y="552">80.00</text><text x="160" y="658">75.00</text><text x="160" y="766">70.00</text><text x="160" y="872">65.00</text><text x="160" y="979">60.00</text></g>
<g class="xl" style="font-size:20px"><text x="175" y="1000">2022/07/18</text><text x="298" y="1000">2022/08/18</text><text x="423" y="1000">2022/09/18</text><text x="542" y="1000">2022/10/18</text><text x="667" y="1000">2022/11/18</text><text x="788" y="1000">2022/12/18</text><text x="912" y="1000">2023/01/18</text><text x="1035" y="1000">2023/02/18</text><text x="1148" y="1000">2023/03/18</text><text x="1273" y="1000">2023/04/18</text><text x="1393" y="1000">2023/05/18</text></g>
<polyline stroke="#2f5597" stroke-width="3" fill="none" stroke-linejoin="round" points="175,590 180,615 190,630 205,640 220,645 240,640 260,630 275,622 295,615 305,600 320,575 335,562 350,555 370,548 390,544 410,539 440,540 460,531 500,532 515,540 525,567 540,572 580,575 590,585 605,603 620,612 640,622 655,630 670,630 690,611 720,610 770,613 790,608 805,600 820,612 835,620 860,622 875,628 890,632 905,628 920,622 940,615 960,612 975,615 990,610 1010,607 1030,605 1045,585 1060,572 1090,570 1110,560 1130,556 1150,553 1170,548 1195,549 1210,540 1225,532 1240,542 1255,546 1285,547 1300,560 1310,566 1325,557 1340,553 1360,555 1380,552 1393,550"/>
<text x="8" y="1072" class="bt" textLength="1050" lengthAdjust="spacingAndGlyphs">2023年5月18日兰格钢铁网发布(第371期)全国主要钢铁企业高炉开工率数据：</text>
<text x="8" y="1125" class="bt" textLength="1530" lengthAdjust="spacingAndGlyphs">全国201家生产企业中有63家钢厂共计94座高炉停产，其中在检修有57家86座(上周为58家86座)，94座停产高炉</text>
<text x="8" y="1180" class="bt" textLength="1505" lengthAdjust="spacingAndGlyphs">总容积为80000立方米，较上周减少2070立方米，按容积计算主要钢铁企业高炉开工率为79.74%，较上周上升</text>
<text x="8" y="1233" class="bt">0.19%。</text>
<text x="8" y="1288" class="bt" textLength="690" lengthAdjust="spacingAndGlyphs">影响日铁水量为23.71万吨，较上周减少0.49万吨。</text>
<text x="8" y="1335" textLength="1175" lengthAdjust="spacingAndGlyphs" style="font-size:26px;font-weight:bold;fill:#111">注：自7月21日开始，兰格钢铁网对原样本160家571座高炉样本进行更换，新样本为201家650座。</text>
<line class="hl" x1="0" y1="1353" x2="1568" y2="1353"/>
<rect x="10" y="1380" width="42" height="68" fill="#2f5597"/>
<text x="67" y="1430" style="font-size:44px;fill:#2b4f96">唐山钢坯日需求量</text>
<text x="1548" y="1418" style="font-size:26px;fill:#2f5597;text-anchor:end">（万吨）</text>
<line class="hl" x1="0" y1="1450" x2="1568" y2="1450"/>
<text x="730" y="1510" class="tt sr" style="font-size:38px">5月5日唐山钢坯预估需求量</text>
</g>

<!-- pie (orig coords) -->
<circle cx="411" cy="4456" r="131" fill="#c00000"/>
<path d="M411,4456 L411,4325 A131,131 0 0 0 333.3,4350.6 Z" fill="#a6a6a6"/>
<text x="393" y="4397" font-size="11" fill="#000" text-anchor="middle">0.4</text>
<text x="435" y="4524" font-size="11" fill="#fff" text-anchor="middle">3.56</text>

<!-- ZOOM8 -->
<g class="z z8" transform="translate(0,4320) scale(0.51276,0.44196)">
<rect x="113" y="168" width="15" height="18" fill="#c00000"/><text x="135" y="187" style="font-size:27px;fill:#404040">型钢日需求</text>
<rect x="113" y="244" width="15" height="18" fill="#a6a6a6"/><text x="135" y="263" style="font-size:27px;fill:#404040">145带钢日需求</text>
<rect x="113" y="319" width="15" height="18" fill="#2f5597"/><text x="135" y="338" style="font-size:27px;fill:#404040">螺纹日需求</text>
<line class="hl" x1="0" y1="650" x2="1568" y2="650"/>
<text x="125" y="705" class="sr sh">唐山钢坯成本</text>
<line class="hl" x1="0" y1="720" x2="1568" y2="720"/>
<text x="800" y="767" class="tt" style="font-size:32px;fill:#595959">钢坯出厂价与钢坯生产成本均价走势对比图</text>
<line class="ax" x1="125" y1="795" x2="125" y2="1343"/><line class="ax" x1="125" y1="1343" x2="1507" y2="1343"/>
<g class="yl" style="font-size:20px"><text x="110" y="802">4200</text><text x="110" y="893">4050</text><text x="110" y="984">3900</text><text x="110" y="1076">3750</text><text x="110" y="1167">3600</text><text x="110" y="1259">3450</text><text x="110" y="1350">3300</text></g>
<line x1="595" y1="845" x2="642" y2="845" class="rl"/><text x="650" y="852" style="font-size:20px;fill:#999">迁安方坯</text>
<line x1="852" y1="845" x2="900" y2="845" class="bl"/><text x="908" y="852" style="font-size:20px;fill:#999">钢坯成本均价</text>
<polyline class="bl" points="125,1109 170,1109 177,1076 232,1076 235,1012 285,1012 290,1007 342,1007 348,984 400,984 405,978 458,978 462,992 515,992 520,1020 625,1020 632,1024 685,1024 690,1010 742,1010 748,990 800,990 805,975 855,975 862,970 915,970 920,972 970,972 978,928 1030,928 1035,943 1085,943 1092,962 1200,962 1208,996 1258,996 1265,1028 1315,1028 1322,1059 1428,1059 1437,1195 1487,1195 1492,1207 1505,1207"/>
<polyline class="rl" points="125,1192 137,1192 145,1175 160,1140 178,1140 186,1130 190,1100 200,1082 220,1078 230,1082 235,1078 242,1030 252,1032 265,1060 285,1092 292,1070 300,1080 315,1082 335,1094 342,1092 348,1065 358,1062 365,1050 375,1055 400,1068 408,1080 415,1080 418,1050 440,1048 452,1040 460,1025 468,1012 472,1025 480,1008 490,1020 505,1038 520,1038 530,1022 550,1010 580,995 600,983 620,976 628,1030 650,1032 660,1040 680,1055 692,1056 702,1045 712,1050 725,1060 735,1068 745,1055 755,1030 765,1000 775,997 790,995 800,960 810,958 815,948 830,962 855,975 860,968 870,958 880,925 895,940 905,950 912,932 920,932 930,905 945,893 960,888 970,874 978,880 985,912 998,918 1010,935 1020,955 1035,975 1045,1010 1055,1000 1075,1002 1085,992 1100,990 1110,978 1120,995 1130,1015 1140,1038 1160,1040 1170,1052 1185,1065 1200,1070 1210,1068 1218,1085 1225,1075 1250,1075 1258,1062 1265,1075 1275,1076 1283,1130 1290,1147 1300,1170 1305,1200 1315,1185 1325,1188 1332,1222 1345,1230 1370,1236 1395,1240 1410,1238 1428,1228 1435,1250 1440,1245 1447,1240 1452,1278 1460,1282 1470,1268 1480,1260 1490,1258 1495,1245 1505,1246"/>
<text x="8" y="1505" class="bt" textLength="1550" lengthAdjust="spacingAndGlyphs">本周（5月17日）唐山地区样本长流程钢厂，钢坯含税累计成本（调研值，不含三费）均值为3524元，周环比降</text>
<text x="8" y="1558" class="bt">10元。</text>
</g>

<!-- cost chart x labels (orig) -->
<g font-size="8" fill="#7f7f7f" text-anchor="end">
<text transform="translate(68,4919) rotate(-90)">12月1日</text><text transform="translate(97,4919) rotate(-90)">12月8日</text><text transform="translate(126,4919) rotate(-90)">12月15日</text><text transform="translate(156,4919) rotate(-90)">12月22日</text><text transform="translate(185,4919) rotate(-90)">12月29日</text><text transform="translate(215,4919) rotate(-90)">1月5日</text><text transform="translate(244,4919) rotate(-90)">1月12日</text><text transform="translate(274,4919) rotate(-90)">1月19日</text><text transform="translate(303,4919) rotate(-90)">1月26日</text><text transform="translate(333,4919) rotate(-90)">2月2日</text><text transform="translate(362,4919) rotate(-90)">2月9日</text><text transform="translate(391,4919) rotate(-90)">2月16日</text><text transform="translate(421,4919) rotate(-90)">2月23日</text><text transform="translate(450,4919) rotate(-90)">3月2日</text><text transform="translate(480,4919) rotate(-90)">3月9日</text><text transform="translate(509,4919) rotate(-90)">3月16日</text><text transform="translate(538,4919) rotate(-90)">3月23日</text><text transform="translate(568,4919) rotate(-90)">3月30日</text><text transform="translate(597,4919) rotate(-90)">4月6日</text><text transform="translate(626,4919) rotate(-90)">4月13日</text><text transform="translate(656,4919) rotate(-90)">4月20日</text><text transform="translate(685,4919) rotate(-90)">4月27日</text><text transform="translate(715,4919) rotate(-90)">5月4日</text><text transform="translate(744,4919) rotate(-90)">5月11日</text><text transform="translate(773,4919) rotate(-90)">5月18日</text>
</g>
</svg>
</body></html>
